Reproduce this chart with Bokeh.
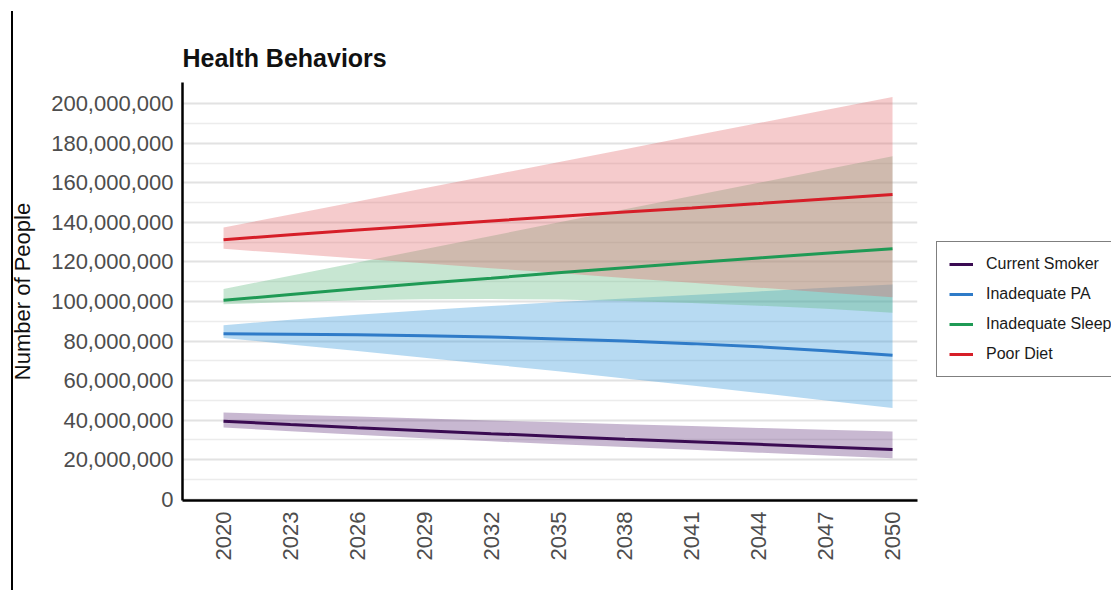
import math
from bokeh.plotting import figure
from bokeh.models import Legend, LegendItem, FixedTicker, NumeralTickFormatter, Range1d
from bokeh.layouts import row
from bokeh.embed import file_html
from bokeh.resources import INLINE

# Projection years (every third year is labelled on the axis)
years = [2020, 2023, 2026, 2029, 2032, 2035, 2038, 2041, 2044, 2047, 2050]
year_ticks = [2020, 2023, 2026, 2029, 2032, 2035, 2038, 2041, 2044, 2047, 2050]

# Projected number of people (millions): central estimate and interval
smoker = [39.5, 37.8, 36.2, 34.7, 33.2, 31.8, 30.4, 29.1, 27.8, 26.5, 25.2]
smoker_hi = [43.9, 42.8, 41.8, 40.8, 39.8, 38.9, 38.0, 37.1, 36.1, 35.2, 34.3]
smoker_lo = [36.3, 34.4, 32.6, 30.9, 29.3, 27.8, 26.4, 25.0, 23.6, 22.1, 20.7]

pa = [83.7, 83.5, 83.2, 82.7, 82.0, 81.1, 80.0, 78.7, 77.1, 75.1, 72.8]
pa_hi = [88.0, 90.8, 93.3, 95.6, 97.7, 99.7, 101.5, 103.3, 105.1, 106.9, 108.6]
pa_lo = [81.6, 78.3, 75.0, 71.6, 68.2, 64.7, 61.1, 57.5, 53.8, 50.0, 46.1]

sleep = [100.6, 103.5, 106.4, 109.2, 111.8, 114.5, 117.1, 119.6, 122.0, 124.4, 126.6]
sleep_hi = [106.3, 113.0, 119.7, 126.4, 133.1, 139.9, 146.6, 153.3, 160.0, 166.7, 173.4]
sleep_lo = [98.6, 99.7, 100.6, 101.1, 101.2, 101.0, 100.2, 99.2, 97.9, 96.3, 94.3]

diet = [131.2, 133.7, 136.1, 138.4, 140.7, 143.0, 145.2, 147.3, 149.5, 151.8, 154.1]
diet_hi = [137.4, 144.0, 150.6, 157.2, 163.8, 170.4, 177.0, 183.6, 190.2, 196.8, 203.4]
diet_lo = [126.6, 124.2, 121.7, 119.3, 116.8, 114.4, 111.9, 109.5, 107.0, 104.6, 102.1]

y_ticks = [0, 20, 40, 60, 80, 100, 120, 140, 160, 180, 200]
y_minor = [10, 30, 50, 70, 90, 110, 130, 150, 170, 190]

names = ["Current Smoker", "Inadequate PA", "Inadequate Sleep", "Poor Diet"]
line_colors = ["#3A0B52", "#2F7BC8", "#1F9A55", "#D61E28"]
fill_colors = ["#4A1466", "#3195DA", "#5FB87E", "#E06265"]
fill_alphas = [0.30, 0.35, 0.35, 0.33]

M = 1e6
def scale(v):
    return [x * M for x in v]

FONT = "Liberation Sans"

series = [(smoker, smoker_lo, smoker_hi), (pa, pa_lo, pa_hi),
          (sleep, sleep_lo, sleep_hi), (diet, diet_lo, diet_hi)]

# ---- main chart -------------------------------------------------------------
p = figure(width=936, height=590, output_backend="svg", toolbar_location=None,
           x_range=Range1d(2018.16, 2051.12), y_range=Range1d(-0.6 * M, 210.7 * M),
           min_border_left=182, min_border_right=19, min_border_top=82,
           min_border_bottom=90, outline_line_color=None,
           border_fill_color=None,
           styles={"background": "linear-gradient(#000, #000) 11px 11px / 2px 579px no-repeat"})

p.title.text = "Health Behaviors"
p.title.text_font = FONT
p.title.text_font_size = "25px"
p.title.text_font_style = "bold"
p.title.text_color = "#111111"
p.title.align = "left"
p.title.standoff = 22

for (mid, lo, hi), fc, fa in zip(series, fill_colors, fill_alphas):
    p.varea(x=years, y1=scale(lo), y2=scale(hi), fill_color=fc, fill_alpha=fa)

for (mid, lo, hi), lc in zip(series, line_colors):
    p.line(years, scale(mid), line_color=lc, line_width=3)

p.xaxis.ticker = FixedTicker(ticks=year_ticks)
p.yaxis.ticker = FixedTicker(ticks=scale(y_ticks), minor_ticks=scale(y_minor))
p.yaxis.formatter = NumeralTickFormatter(format="0,0")
p.xaxis.major_label_orientation = math.pi / 2
for ax in (p.xaxis[0], p.yaxis[0]):
    ax.axis_line_color = "black"
    ax.axis_line_width = 2.5
    ax.major_tick_line_color = None
    ax.minor_tick_line_color = None
    ax.major_label_text_font = FONT
    ax.major_label_text_font_size = "22px"
    ax.major_label_text_color = "#4d4d4d"
p.xaxis.major_label_standoff = 5
p.yaxis.major_label_standoff = 3
p.yaxis.axis_label = "Number of People"
p.yaxis.axis_label_text_font = FONT
p.yaxis.axis_label_text_font_size = "22px"
p.yaxis.axis_label_text_font_style = "normal"
p.yaxis.axis_label_text_color = "#111111"
p.yaxis.axis_label_standoff = 13

p.xgrid.grid_line_color = None
p.ygrid.grid_line_color = "#e2e2e2"
p.ygrid.grid_line_width = 2
p.ygrid.minor_grid_line_color = "#ececec"
p.ygrid.minor_grid_line_width = 1.5

# ---- legend panel -----------------------------------------------------------
# A bare figure to the right of the chart holds the key; its ranges keep the
# key's own line renderers out of view so only the legend shows.
lg = figure(width=175, height=590, output_backend="svg", toolbar_location=None,
            x_range=Range1d(0, 1), y_range=Range1d(0, 1),
            min_border=0, outline_line_color=None, border_fill_color=None,
            background_fill_color=None)
lg.axis.visible = False
lg.grid.visible = False

items = []
for (mid, lo, hi), lc, name in zip(series, line_colors, names):
    r = lg.line(years, scale(mid), line_color=lc, line_width=3)
    items.append(LegendItem(label=name, renderers=[r]))

legend = Legend(items=items, location=(0, 123), margin=0, padding=12,
                spacing=10, glyph_width=24, glyph_height=20, label_height=20,
                label_standoff=13, label_text_font=FONT,
                label_text_font_size="16px", label_text_color="#1a1a1a",
                border_line_color="black", border_line_width=1.2,
                background_fill_color="white", background_fill_alpha=1)
lg.add_layout(legend)

layout = row(p, lg, spacing=0)

with open("out.html", "w") as f:
    f.write(file_html(layout, INLINE))
